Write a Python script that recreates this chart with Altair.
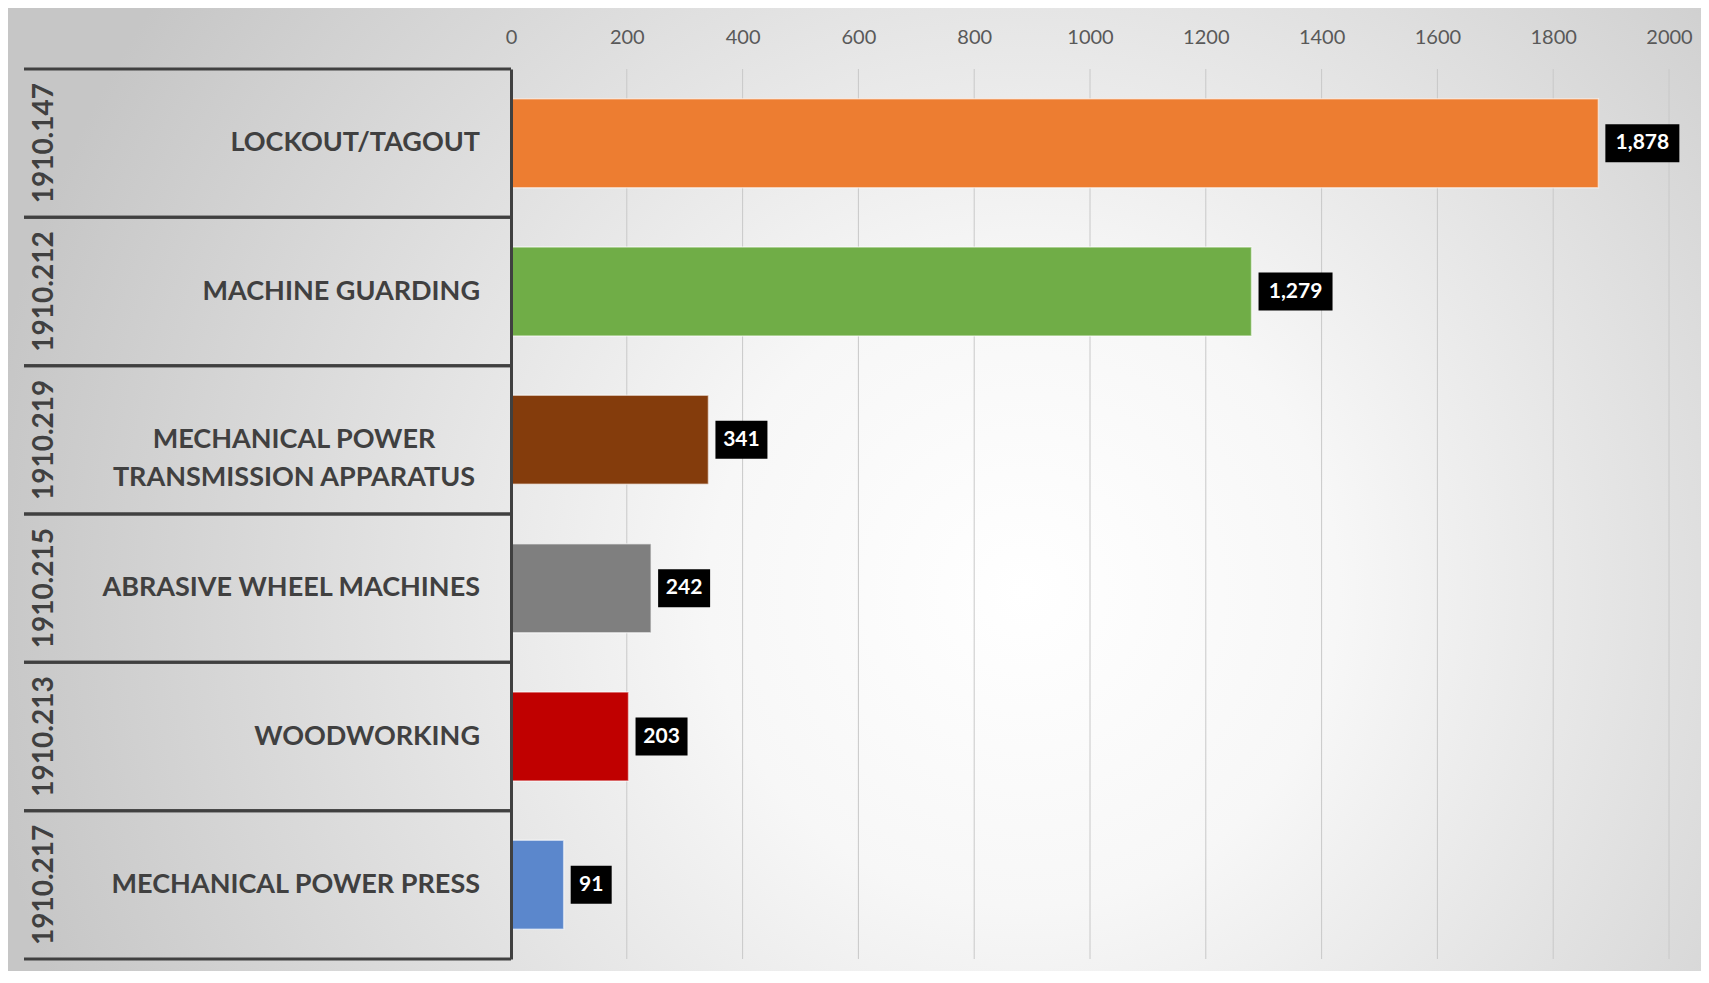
import altair as alt
import pandas as pd

codes = ["1910.147", "1910.212", "1910.219", "1910.215", "1910.213", "1910.217"]
names = [
    "LOCKOUT/TAGOUT",
    "MACHINE GUARDING",
    "MECHANICAL POWER\nTRANSMISSION APPARATUS",
    "ABRASIVE WHEEL MACHINES",
    "WOODWORKING",
    "MECHANICAL POWER PRESS",
]
citations = [1878, 1279, 341, 242, 203, 91]
bar_colors = ["#ED7D31", "#70AD47", "#843C0C", "#7F7F7F", "#C00000", "#5B87CC"]
tick_values = [0, 200, 400, 600, 800, 1000, 1200, 1400, 1600, 1800, 2000]

PLOT_W, PLOT_H = 1158, 890
PAD = {"left": 503, "top": 61, "right": 32, "bottom": 12}
UPP = 2000 / PLOT_W  # data units per pixel

df = pd.DataFrame({"code": codes, "name": names, "value": citations})

xscale = alt.Scale(domain=[0, 2000], nice=False, zero=True)
xaxis = alt.Axis(
    orient="top", values=tick_values, format="d", grid=False, domain=False, ticks=False,
    labelFont="Lato", labelFontSize=20, labelColor="#595959", labelPadding=22,
    labelAngle=0, labelFlush=False, labelOverlap=False, title=None, zindex=1,
)
yscale = alt.Scale(domain=names, paddingInner=0, paddingOuter=0)
yaxis = alt.Axis(
    orient="left", domain=True, domainColor="#404040", domainWidth=3, ticks=False,
    labels=False, title=None, zindex=1,
)

def Y(band=None):
    if band is None:
        return alt.Y("name:N", sort=names, scale=yscale, axis=yaxis)
    return alt.Y("name:N", sort=names, scale=yscale, axis=yaxis, bandPosition=band)

gradient = {
    "gradient": "radial",
    "x1": 0.6, "y1": 0.56, "r1": 0,
    "x2": 0.6, "y2": 0.56, "r2": 0.62,
    "stops": [
        {"offset": 0, "color": "#ffffff"},
        {"offset": 0.3, "color": "#f7f7f7"},
        {"offset": 1, "color": "#c6c6c6"},
    ],
}

background = alt.Chart(alt.Data(values=[{"bg": 1}])).mark_rect(fill=gradient).encode(
    x=alt.value(-PAD["left"]), x2=alt.value(PLOT_W + PAD["right"]),
    y=alt.value(-PAD["top"]), y2=alt.value(PLOT_H + PAD["bottom"]),
)

grid = alt.Chart(pd.DataFrame({"t": tick_values})).mark_rule(
    color="#c8c8c8", strokeWidth=1
).encode(x=alt.X("t:Q", scale=xscale, axis=xaxis))

base = alt.Chart(df)

sep_top = base.mark_rule(color="#404040", strokeWidth=3).encode(
    y=Y(0), x=alt.value(-487), x2=alt.value(0)
)
sep_bot = base.mark_rule(color="#404040", strokeWidth=3).encode(
    y=Y(1), x=alt.value(-487), x2=alt.value(0)
)

code_text = base.mark_text(
    angle=270, font="Lato", fontWeight="bold", fontSize=28, color="#404040",
    align="center", baseline="middle",
).encode(y=Y(), x=alt.value(-466), text="code:N")

name_style = dict(font="Lato", fontWeight="bold", fontSize=27, color="#404040", baseline="middle")
names_single = base.transform_filter("indexof(datum.name, '\\n') < 0").mark_text(
    align="right", **name_style
).encode(y=Y(), x=alt.value(-31), text="name:N")
names_multi = base.transform_filter("indexof(datum.name, '\\n') >= 0").mark_text(
    align="center", lineBreak="\n", lineHeight=38, **name_style
).encode(y=Y(), x=alt.value(-217), text="name:N")

bars = base.mark_bar(
    height=alt.RelativeBandSize(0.6), stroke="white", strokeOpacity=0.55, strokeWidth=1.5
).encode(
    y=Y(),
    x=alt.X("value:Q", scale=xscale, axis=xaxis),
    color=alt.Color("name:N", scale=alt.Scale(domain=names, range=bar_colors), legend=None),
)

lab = (
    base.transform_calculate(lab="format(datum.value, ',')")
    .transform_calculate(x0=f"datum.value + 7*{UPP}")
    .transform_calculate(x1=f"datum.value + (7 + 11*length(datum.lab) + 19)*{UPP}")
    .transform_calculate(xm="(datum.x0 + datum.x1)/2")
)

boxes = lab.mark_bar(height=38, color="black").encode(
    y=Y(), x=alt.X("x0:Q", scale=xscale, axis=xaxis), x2="x1:Q"
)
box_text = lab.mark_text(
    color="white", font="Lato", fontWeight="bold", fontSize=21,
    align="center", baseline="middle",
).encode(y=Y(), x=alt.X("xm:Q", scale=xscale, axis=xaxis), text="lab:N")

chart = (
    alt.layer(background, grid, sep_top, sep_bot, code_text, names_single, names_multi,
              bars, boxes, box_text)
    .properties(
        width=PLOT_W, height=PLOT_H,
        autosize=alt.AutoSizeParams(type="none"),
        padding=PAD,
    )
    .configure_view(stroke=None)
)

chart.save("out.html", embed_options={"renderer": "svg", "actions": False})
